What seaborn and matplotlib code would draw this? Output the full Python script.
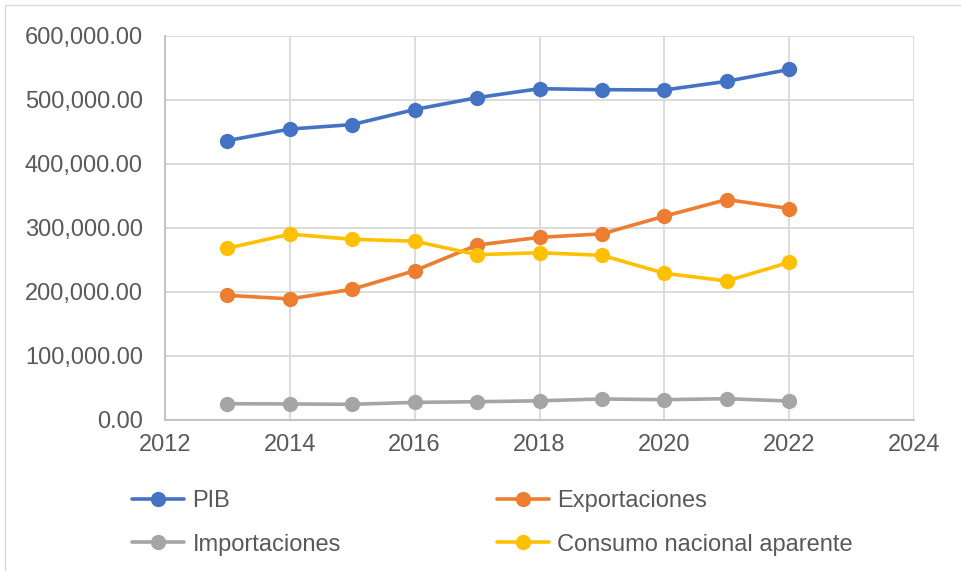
import pandas as pd
import matplotlib.pyplot as plt
import matplotlib.patches as mpatches
from matplotlib.ticker import FuncFormatter
import seaborn as sns

#Data
years = [2013, 2014, 2015, 2016, 2017, 2018, 2019, 2020, 2021, 2022]
pib = [436000, 454000, 461000, 484500, 503000, 517000, 515500, 515000, 528500, 547000]
exportaciones = [194500, 189000, 204000, 233000, 273000, 285000, 290500, 318000, 344000, 330000]
importaciones = [25400, 25000, 24500, 27500, 28500, 30000, 32800, 31700, 33200, 29600]
consumo = [268000, 290000, 282000, 279000, 258000, 261000, 257000, 229000, 217000, 246000]

series_names = ['PIB', 'Exportaciones', 'Importaciones', 'Consumo nacional aparente']
series_colors = ['#4472C4', '#ED7D31', '#A5A5A5', '#FFC000']

#Build long table for seaborn
df = pd.DataFrame({
    'year': years * 4,
    'value': pib + exportaciones + importaciones + consumo,
    'serie': [s for s in series_names for _ in years],
})

sns.set_theme(style='white')
plt.rcParams['font.family'] = ['Liberation Sans', 'DejaVu Sans']

fig = plt.figure(figsize=(9.61, 5.71), dpi=100)
ax = fig.add_axes([165 / 961, 1 - 420 / 571, (914 - 165) / 961, (420 - 35.5) / 571])

sns.lineplot(data=df, x='year', y='value', hue='serie', hue_order=series_names,
             palette=series_colors, marker='o', markersize=11, markeredgewidth=0,
             linewidth=2.6, ax=ax, legend=True)

ax.set_xlim(2012, 2024)
ax.set_ylim(0, 600000)
ax.set_xticks(range(2012, 2025, 2))
ax.set_yticks(range(0, 600001, 100000))
ax.yaxis.set_major_formatter(FuncFormatter(lambda v, p: f'{v:,.2f}'))
ax.grid(True, color='#D9D9D9', linewidth=1.3)
ax.set_axisbelow(True)
ax.set_xlabel('')
ax.set_ylabel('')
ax.tick_params(axis='both', length=0, labelsize=17, labelcolor='#595959')
ax.tick_params(axis='y', pad=16)
ax.tick_params(axis='x', pad=10)
for side in ['top', 'right']:
    ax.spines[side].set_visible(False)
for side in ['left', 'bottom']:
    ax.spines[side].set_color('#BFBFBF')
    ax.spines[side].set_linewidth(1.3)

#Legend below, two columns (PIB / Exportaciones on first row)
handles, labels = ax.get_legend_handles_labels()
ax.get_legend().remove()
order = [0, 2, 1, 3]
fig.legend([handles[i] for i in order], [labels[i] for i in order],
           ncol=2, loc='upper left', bbox_to_anchor=(111 / 961, 1 - 469 / 571),
           frameon=False, fontsize=17, labelcolor='#595959',
           handlelength=2.2, handletextpad=0.35, columnspacing=6.6, labelspacing=0.9)

#Light chart border like the source
fig.patches.append(mpatches.Rectangle((5 / 961, -0.1), 1.2, 1 - 5 / 571 + 0.1,
                                      transform=fig.transFigure, fill=False,
                                      edgecolor='#D9D9D9', linewidth=1))

fig.savefig('out.png', dpi=100)
